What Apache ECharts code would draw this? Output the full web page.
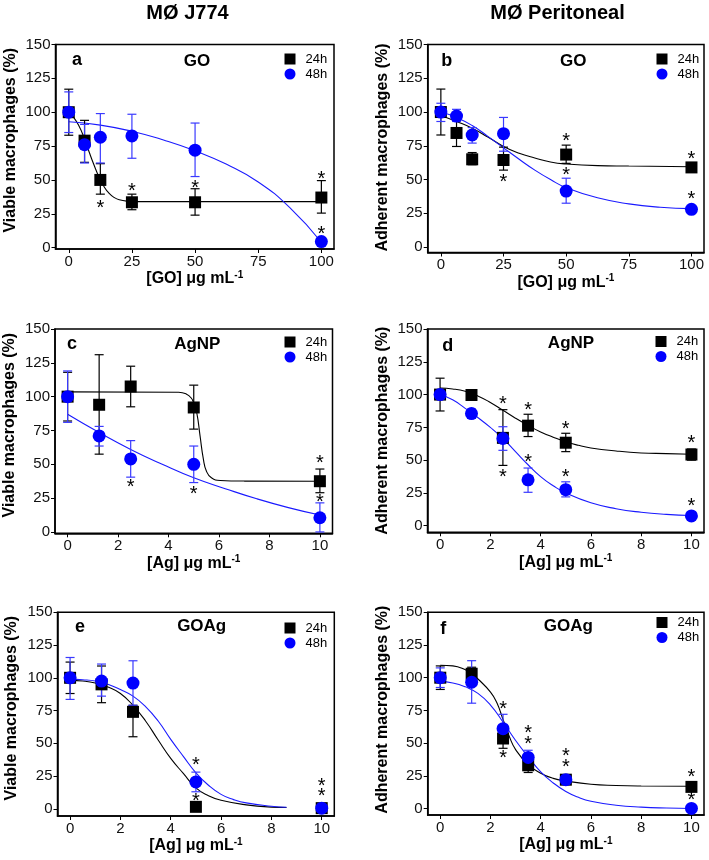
<!DOCTYPE html>
<html><head><meta charset="utf-8">
<script src="https://cdn.jsdelivr.net/npm/echarts@6/dist/echarts.min.js"></script>
<style>html,body{margin:0;padding:0;background:#fff}#c{width:709px;height:860px}</style>
</head><body><div id="c"></div>
<script>
const FONT = '"Liberation Sans", Arial, Helvetica, sans-serif';

// ---------- shared axes ----------
const xGO = [0, 6.25, 12.5, 25, 50, 100];
const xAg5 = [0, 1.25, 2.5, 5, 10];
const xAg6 = [0, 1.25, 2.5, 3.5, 5, 10];
const yTicks = [0, 25, 50, 75, 100, 125, 150];
const xTicksGO = [0, 25, 50, 75, 100];
const xTicksAg = [0, 2, 4, 6, 8, 10];
const colTitles = ['MØ J774', 'MØ Peritoneal'];
const panelLetters = ['a', 'b', 'c', 'd', 'e', 'f'];
const panelLabels = ['GO', 'GO', 'AgNP', 'AgNP', 'GOAg', 'GOAg'];
const yNames = ['Viable macrophages (%)', 'Adherent macrophages (%)'];

// ---------- panel a ----------
const a24 = [100, 79, 50, 33.5, 33.5, 37];
const a24Lo = [83, 63, 39.5, 28, 24, 25.5];
const a24Hi = [117, 94, 62, 39.5, 43.5, 49.5];
const a48 = [100, 76, 81.5, 82.5, 72, 4.5];
const a48Lo = [85, 62.5, 62.5, 66, 52.5, 3];
const a48Hi = [115, 91, 99, 98.5, 92, 6];
const a24Fit = [[0,100],[2,96],[4,90],[6,81.5],[8,71],[10,61],[12,52],[14,45],[16,40],[18,37],[20,35.3],[23,34.3],[27,34],[50,34],[100,34]];
const a48Fit = [[0,93],[12.5,90.5],[25,86],[37.5,79.5],[50,71.5],[62.5,61.5],[75,48.5],[87.5,29.5],[100,4]];
const aStars = [[12.5,32],[25,44.5],[50,46.5],[100,53],[100,12.5]];

// ---------- panel b ----------
const b24 = [100, 84.5, 65, 64.5, 68.5, 59];
const b24Lo = [83, 74.5, 61, 57, 62, 57.5];
const b24Hi = [117, 96.5, 70, 74, 75.5, 61];
const b48 = [100, 97, 83, 84, 41.5, 28];
const b48Lo = [93, 93, 77, 71, 32.5, 27];
const b48Hi = [106.5, 102, 88.5, 96, 51, 29];
const b24Fit = [[0,97.5],[6.25,93],[12.5,88],[18.75,81.5],[25,74.5],[31.25,69.5],[37.5,66],[43.75,63],[50,61.5],[62.5,60.3],[75,60],[100,59.5]];
const b48Fit = [[0,100],[6.25,96],[12.5,90],[18.75,82],[25,73.5],[31.25,65],[37.5,57],[43.75,50],[50,44],[62.5,36.5],[75,32],[87.5,29.5],[100,28.5]];
const bStars = [[25,51],[50,81],[50,56],[100,67.5],[100,38.5]];

// ---------- panel c ----------
const c24 = [100, 94, 107.5, 92, 37.5];
const c24Lo = [82, 57.5, 92.5, 76, 29];
const c24Hi = [118, 131, 122.5, 108.5, 46.5];
const c48 = [100, 71, 54, 50, 10.5];
const c48Lo = [81, 63.5, 40.5, 36.5, 0];
const c48Hi = [119, 78, 67.5, 63.5, 21.5];
const c24Fit = [[0,103.5],[4.4,103.3],[4.7,102],[4.9,99],[5,95],[5.12,88],[5.25,71],[5.38,54],[5.5,45],[5.7,40],[6.05,38],[7,37.6],[10,37.5]];
const c48Fit = [[0,87],[1.25,73.5],[2.5,61],[3.75,50],[5,40],[6.25,32],[7.5,24.5],[8.75,18],[10,12.5]];
const cStars = [[2.5,35.5],[5,30.5],[10,53.5],[10,25]];

// ---------- panel d ----------
const d24 = [100, 99.7, 67, 76.3, 63.3, 54.3];
const d24Lo = [87.5, 98.5, 46, 68, 56.5, 50];
const d24Hi = [112.5, 101, 88.5, 85, 70.5, 58.5];
const d48 = [100, 85.5, 66.5, 35, 27.5, 7.5];
const d48Lo = [97, 82, 57.5, 25.5, 22, 6.5];
const d48Hi = [103, 89, 75.5, 44, 33.5, 8.5];
const d24Fit = [[0,105],[0.5,104.3],[1,102.5],[1.5,99],[2,94],[2.5,88],[3,82],[3.5,76.5],[4,71.5],[4.5,67.5],[5,64],[5.5,61.3],[6,59.3],[7,57],[8,55.5],[9,55],[10,54.5]];
const d48Fit = [[0,100],[0.5,96],[1,89.5],[1.25,86],[1.5,82.5],[2,75],[2.5,66.5],[3,56.5],[3.5,46.5],[4,37.5],[4.5,30.5],[5,25],[6,17.5],[7,13],[8,10.3],[9,8.7],[10,7.8]];
const dStars = [[2.5,95.5],[2.5,40],[3.5,91],[3.5,51.5],[5,76.5],[5,40],[10,65.5],[10,17.5]];

// ---------- panel e ----------
const e24 = [100, 95, 74, 1.5, 0.5];
const e24Lo = [88, 81, 55, 0.5, 0];
const e24Hi = [112, 109, 79, 2.5, 1];
const e48 = [100, 97.5, 96, 20.5, 0.5];
const e48Lo = [83.5, 86, 79, 13, 0];
const e48Hi = [115.5, 110.5, 113, 28, 1];
const e24Fit = [[0,98],[0.5,97.5],[1,96],[1.5,93],[2,88],[2.5,79],[3,67],[3.5,52.5],[4,38.5],[4.5,27],[5,16],[5.5,10],[6,6.5],[7,3],[8,1.3],[8.6,1]];
const e48Fit = [[0,99],[0.5,98.5],[1,97.5],[1.5,95],[2,91],[2.5,86],[3,78],[3.5,67],[4,53],[4.5,40],[5,27.5],[5.5,18],[6,11],[6.5,7],[7,4.5],[8,2],[8.6,1.2]];
const eStars = [[5,36],[5,9],[10,20],[10,12.5]];

// ---------- panel f ----------
const f24 = [100, 103, 53.5, 33, 22, 16.5];
const f24Lo = [91, 98.5, 46, 27.5, 20.5, 15];
const f24Hi = [109, 108, 61, 37, 23.5, 18];
const f48 = [100, 96.5, 61, 39, 22, 0];
const f48Lo = [92.5, 80.5, 50.5, 34, 20.5, 0];
const f48Hi = [107.5, 113, 72, 44.5, 23.5, 0.5];
const f24Fit = [[0,109.5],[0.5,109],[1,106],[1.25,103],[1.5,99],[2,89],[2.25,81],[2.5,68],[2.75,55],[3,45],[3.5,33.5],[4,27],[4.5,23],[5,21],[6,18.5],[7,17.6],[8,17.2],[10,17]];
const f48Fit = [[0,97],[0.5,96],[1,93],[1.5,88],[2,79],[2.5,66],[3,52],[3.5,39.5],[4,28],[4.5,19.5],[5,13],[5.5,8.5],[6,5.5],[7,2.5],[8,1],[9,0.3],[10,0]];
const fStars = [[2.5,78.5],[2.5,41],[3.5,60.5],[3.5,52],[5,42.5],[5,34.5],[10,27],[10,9]];

// ---------- layout (pixels) ----------
const grids = [
  {left:55.5, top:44.5, width:278.5, height:204.5},
  {left:427.7, top:44.5, width:276.3, height:208},
  {left:55, top:329, width:277.5, height:204.3},
  {left:427.5, top:329, width:276.5, height:203.3},
  {left:57.5, top:612.3, width:276.8, height:203.7},
  {left:427.7, top:612.3, width:276.3, height:202.7}
];
const yMins = [-1, -4, -1, -5, -5.5, -5];
const xRanges = [[-5.25,105],[-5.25,105],[-0.5,10.5],[-0.5,10.5],[-0.5,10.5],[-0.5,10.5]];
const yNameGaps = [37, 37, 37.5, 37, 38, 37];
const yNamePad = [13, 2, 12, 0, 12, 8];
const legendPos = [[284.5,52.5],[656.5,52.5],[284.5,335.5],[655.5,335],[284.5,621.5],[656.5,616]];
const letterPos = [[77,60.5],[446.7,61],[72,344.5],[447.7,346],[80,627],[443.3,629.5]];
const labelPos = [[197,61],[573.3,61],[197.3,344.3],[571,343.3],[201.7,626.7],[568.3,626]];

const panels = [
  {xs:xGO, s24:a24, lo24:a24Lo, hi24:a24Hi, s48:a48, lo48:a48Lo, hi48:a48Hi, fit24:a24Fit, fit48:a48Fit, stars:aStars, xName:'[GO] μg mL{sup|-1}', xt:xTicksGO},
  {xs:xGO, s24:b24, lo24:b24Lo, hi24:b24Hi, s48:b48, lo48:b48Lo, hi48:b48Hi, fit24:b24Fit, fit48:b48Fit, stars:bStars, xName:'[GO] μg mL{sup|-1}', xt:xTicksGO},
  {xs:xAg5, s24:c24, lo24:c24Lo, hi24:c24Hi, s48:c48, lo48:c48Lo, hi48:c48Hi, fit24:c24Fit, fit48:c48Fit, stars:cStars, xName:'[Ag] μg mL{sup|-1}', xt:xTicksAg},
  {xs:xAg6, s24:d24, lo24:d24Lo, hi24:d24Hi, s48:d48, lo48:d48Lo, hi48:d48Hi, fit24:d24Fit, fit48:d48Fit, stars:dStars, xName:'[Ag] μg mL{sup|-1}', xt:xTicksAg},
  {xs:xAg5, s24:e24, lo24:e24Lo, hi24:e24Hi, s48:e48, lo48:e48Lo, hi48:e48Hi, fit24:e24Fit, fit48:e48Fit, stars:eStars, xName:'[Ag] μg mL{sup|-1}', xt:xTicksAg},
  {xs:xAg6, s24:f24, lo24:f24Lo, hi24:f24Hi, s48:f48, lo48:f48Lo, hi48:f48Hi, fit24:f24Fit, fit48:f48Fit, stars:fStars, xName:'[Ag] μg mL{sup|-1}', xt:xTicksAg}
];

const BLACK = '#000000';
const BLUE = '#0000ff';
const BLUE_LINE = '#1a1aff';
const BLUE_ERR = '#3a3aff';

function errSeries(i, xs, lo, hi, color) {
  return {
    type:'custom', xAxisIndex:i, yAxisIndex:i, z:3, silent:true,
    data: xs.map((x,k)=>[x, lo[k], hi[k]]),
    encode:{x:0, y:[1,2]},
    renderItem: function(params, api){
      const x = api.value(0);
      const t = api.coord([x, api.value(2)]);
      const b = api.coord([x, api.value(1)]);
      const w = 4.5;
      const st = {stroke: color, lineWidth: 1.2, fill:null};
      return {type:'group', children:[
        {type:'line', shape:{x1:t[0], y1:t[1], x2:b[0], y2:b[1]}, style:st},
        {type:'line', shape:{x1:t[0]-w, y1:t[1], x2:t[0]+w, y2:t[1]}, style:st},
        {type:'line', shape:{x1:b[0]-w, y1:b[1], x2:b[0]+w, y2:b[1]}, style:st}
      ]};
    }
  };
}
function starSeries(i, stars) {
  return {
    type:'custom', xAxisIndex:i, yAxisIndex:i, z:6, silent:true,
    data: stars, encode:{x:0, y:1}, clip:false,
    renderItem: function(params, api){
      const p = api.coord([api.value(0), api.value(1)]);
      return {type:'text', x:p[0], y:p[1]+4, style:{text:'*', fill:'#000', fontSize:20, fontFamily:FONT, align:'center', verticalAlign:'middle'}};
    }
  };
}

const grid = [], xAxis = [], yAxis = [], series = [], legend = [], graphic = [];
panels.forEach((p, i) => {
  grid.push(Object.assign({show:true, borderColor:'#000', borderWidth:1.5, backgroundColor:'transparent'}, grids[i]));
  xAxis.push({
    gridIndex:i, type:'value', min:xRanges[i][0], max:xRanges[i][1],
    axisLine:{show:true, onZero:false, lineStyle:{color:'#000', width:1.5}},
    axisTick:{show:true, inside:false, length:4, customValues:p.xt, lineStyle:{color:'#000', width:1}},
    axisLabel:{customValues:p.xt, margin:5, fontSize:15, color:'#111', fontFamily:FONT},
    splitLine:{show:false},
    name:p.xName, nameLocation:'middle', nameGap:21,
    nameTextStyle:{fontSize:16, fontWeight:'bold', fontFamily:FONT, color:'#000', lineHeight:18,
      rich:{sup:{fontSize:10, fontWeight:'bold', fontFamily:FONT, color:'#000', verticalAlign:'top', lineHeight:18, padding:[0,0,6,0]}}}
  });
  yAxis.push({
    gridIndex:i, type:'value', min:yMins[i], max:150,
    axisLine:{show:true, onZero:false, lineStyle:{color:'#000', width:1.5}},
    axisTick:{show:true, inside:false, length:4, customValues:yTicks, lineStyle:{color:'#000', width:1}},
    axisLabel:{customValues:yTicks, margin:5, fontSize:15, color:'#111', fontFamily:FONT},
    splitLine:{show:false},
    name:yNames[i%2], nameLocation:'middle', nameGap:yNameGaps[i],
    nameTextStyle:{fontSize:16, fontWeight:'bold', fontFamily:FONT, color:'#000', padding:[0,0,0,yNamePad[i]]}
  });
  series.push({type:'line', name:'fit24_'+i, xAxisIndex:i, yAxisIndex:i, data:p.fit24, showSymbol:false, smooth:0.5, z:1, silent:true, lineStyle:{color:BLACK, width:1.1}});
  series.push({type:'line', name:'fit48_'+i, xAxisIndex:i, yAxisIndex:i, data:p.fit48, showSymbol:false, smooth:0.5, z:1, silent:true, lineStyle:{color:BLUE_LINE, width:1.1}});
  series.push(errSeries(i, p.xs, p.lo24, p.hi24, BLACK));
  series.push(errSeries(i, p.xs, p.lo48, p.hi48, BLUE_ERR));
  series.push({type:'scatter', name:'24h', xAxisIndex:i, yAxisIndex:i, symbol:'rect', symbolSize:12, z:4, itemStyle:{color:BLACK, opacity:1}, data:p.xs.map((x,k)=>[x, p.s24[k]])});
  series.push({type:'scatter', name:'48h', xAxisIndex:i, yAxisIndex:i, symbol:'circle', symbolSize:13, z:5, itemStyle:{color:BLUE, opacity:1}, data:p.xs.map((x,k)=>[x, p.s48[k]])});
  series.push(starSeries(i, p.stars));
  legend.push({
    left:legendPos[i][0], top:legendPos[i][1], orient:'vertical', itemWidth:11, itemHeight:11, itemGap:2,
    selectedMode:false, padding:0,
    itemStyle:{opacity:1},
    textStyle:{fontSize:13, fontFamily:FONT, color:'#000', padding:[0,0,0,5]},
    data:[{name:'24h', icon:'rect'}, {name:'48h', icon:'circle'}]
  });
  graphic.push({type:'text', x:letterPos[i][0], y:letterPos[i][1], style:{text:panelLetters[i], fontSize:18, fontWeight:'bold', fontFamily:FONT, fill:'#000', align:'center', verticalAlign:'middle'}});
  graphic.push({type:'text', x:labelPos[i][0], y:labelPos[i][1], style:{text:panelLabels[i], fontSize:17, fontWeight:'bold', fontFamily:FONT, fill:'#000', align:'center', verticalAlign:'middle'}});
});
graphic.push({type:'text', x:187.5, y:13.5, style:{text:colTitles[0], fontSize:20, fontWeight:'bold', fontFamily:FONT, fill:'#000', align:'center', verticalAlign:'middle'}});
graphic.push({type:'text', x:557.5, y:13.5, style:{text:colTitles[1], fontSize:20, fontWeight:'bold', fontFamily:FONT, fill:'#000', align:'center', verticalAlign:'middle'}});

const chart = echarts.init(document.getElementById('c'), null, {renderer:'canvas'});
chart.setOption({animation:false, backgroundColor:'#fff', grid, xAxis, yAxis, series, legend, graphic});
</script>
</body></html>
